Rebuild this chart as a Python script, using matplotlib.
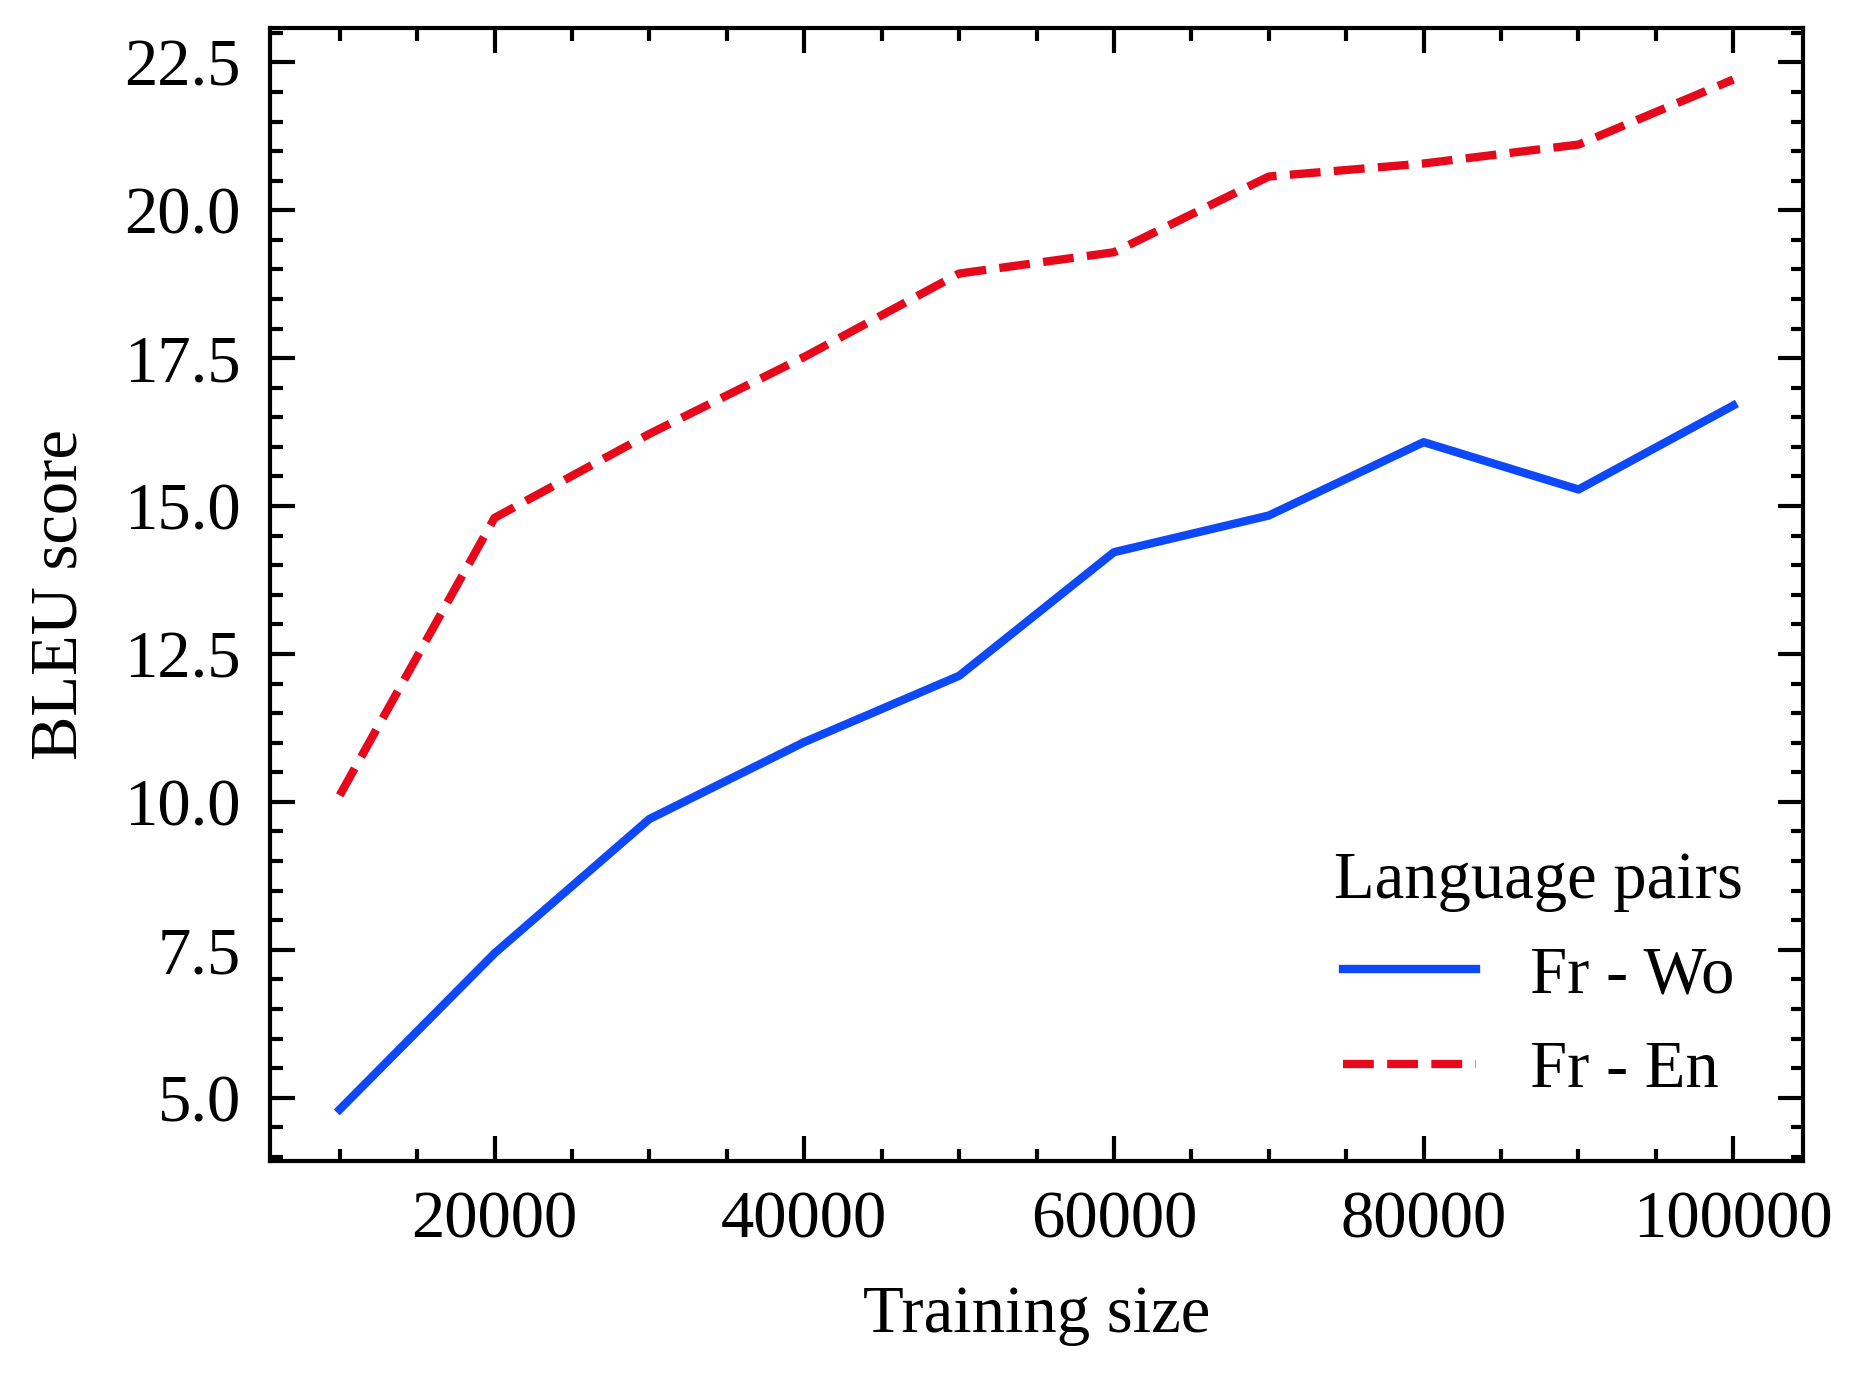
import matplotlib
matplotlib.use("Agg")
import matplotlib.pyplot as plt
from matplotlib.ticker import MultipleLocator

# Data
training_size = [10000, 20000, 30000, 40000, 50000, 60000, 70000, 80000, 90000, 100000]
bleu_fr_wo = [4.80, 7.44, 9.71, 11.01, 12.13, 14.22, 14.84, 16.08, 15.28, 16.70]
bleu_fr_en = [10.11, 14.80, 16.22, 17.52, 18.93, 19.29, 20.57, 20.79, 21.11, 22.21]
series_labels = ["Fr - Wo", "Fr - En"]
legend_title = "Language pairs"

plt.rcParams.update({
    "font.family": "serif",
    "font.serif": ["Liberation Serif", "DejaVu Serif"],
    "font.size": 8,
    "axes.linewidth": 0.5,
    "xtick.direction": "in",
    "ytick.direction": "in",
    "xtick.top": True,
    "ytick.right": True,
    "xtick.major.size": 3,
    "xtick.major.width": 0.5,
    "xtick.minor.size": 1.5,
    "xtick.minor.width": 0.5,
    "ytick.major.size": 3,
    "ytick.major.width": 0.5,
    "ytick.minor.size": 1.5,
    "ytick.minor.width": 0.5,
    "xtick.minor.visible": True,
    "ytick.minor.visible": True,
    "lines.linewidth": 1.0,
    "legend.frameon": False,
    "mathtext.fontset": "dejavuserif",
})

dpi = 600
fig = plt.figure(figsize=(1864 / dpi, 1373 / dpi), dpi=dpi)
ax = fig.add_axes([270 / 1864, 1 - 1161 / 1373, (1803 - 270) / 1864, (1161 - 28) / 1373])

ax.plot(training_size, bleu_fr_wo, color="#0d49fb", linestyle="-", label=series_labels[0])
ax.plot(training_size, bleu_fr_en, color="#e6091c", linestyle="--", label=series_labels[1])

ax.xaxis.set_major_locator(MultipleLocator(20000))
ax.xaxis.set_minor_locator(MultipleLocator(5000))
ax.yaxis.set_major_locator(MultipleLocator(2.5))
ax.yaxis.set_minor_locator(MultipleLocator(0.5))

ax.set_xlabel("Training size")
ax.set_ylabel("BLEU score")
ax.legend(title=legend_title, loc="lower right")

fig.savefig("out.png", dpi=dpi)
